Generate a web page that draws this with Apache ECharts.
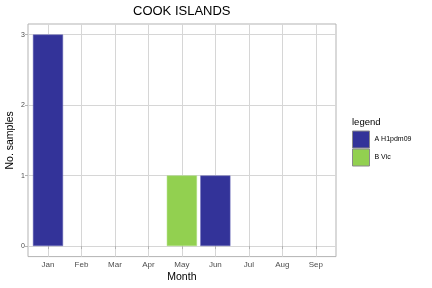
<!DOCTYPE html>
<html><head><meta charset="utf-8">
<script src="https://cdn.jsdelivr.net/npm/echarts@6/dist/echarts.min.js"></script>
<style>html,body{margin:0;padding:0;background:#fff}#c{width:432px;height:288px}</style>
</head><body><div id="c"></div>
<script>
const months = ['Jan','Feb','Mar','Apr','May','Jun','Jul','Aug','Sep'];
const seriesNames = ['A H1pdm09','B Vic'];
const h1pdm09 = [3,0,0,0,0,1,0,0,0];
const bvic = [0,0,0,0,1,0,0,0,0];
const yTicks = [0,1,2,3];
const colors = ['#333399','#92d050'];

const FONT = 'Liberation Sans, Arial, sans-serif';
const chart = echarts.init(document.getElementById('c'), null, {renderer:'canvas'});
const toNull = a => a.map(v => v === 0 ? null : v);
chart.setOption({
  animation:false,
  textStyle:{fontFamily:FONT},
  title:[
    {text:'COOK ISLANDS', left:133, top:5, padding:0,
     textStyle:{fontSize:13, fontWeight:'normal', color:'#000', fontFamily:FONT}},
    {text:'legend', left:352, top:117, padding:0,
     textStyle:{fontSize:9.5, fontWeight:'normal', color:'#000', fontFamily:FONT}}
  ],
  legend:{
    data:seriesNames, orient:'vertical', left:352, top:130.5, padding:0,
    itemWidth:17, itemHeight:17, itemGap:0, icon:'rect',
    itemStyle:{borderColor:'#8a8a8a', borderWidth:1},
    textStyle:{fontSize:7, color:'#000', fontFamily:FONT}
  },
  grid:[
    {left:28, right:96, top:24, bottom:31.4, show:true, borderColor:'#b3b3b3', borderWidth:1, backgroundColor:'transparent', outerBoundsMode:'none'},
    {left:28, right:96, top:34.7, bottom:42, outerBoundsMode:'none'},
    {left:31.25, right:99.5, top:24, bottom:31.4, outerBoundsMode:'none'}
  ],
  xAxis:[
    {gridIndex:0, type:'value', show:false, min:0, max:1},
    {gridIndex:1, type:'value', show:false, min:0, max:1},
    {gridIndex:2, type:'category', data:months,
     axisLine:{show:false},
     axisTick:{show:true, alignWithLabel:true, length:3, lineStyle:{color:'#b3b3b3'}},
     axisLabel:{fontSize:8, color:'#4d4d4d', margin:4, fontFamily:FONT},
     splitLine:{show:false},
     name:'Month', nameLocation:'middle', nameGap:15, nameMoveOverlap:false,
     nameTextStyle:{fontSize:10.5, color:'#000', fontFamily:FONT}}
  ],
  yAxis:[
    {gridIndex:0, type:'value', show:false, min:0, max:1},
    {gridIndex:1, type:'value', min:yTicks[0], max:yTicks[yTicks.length-1], interval:1,
     position:'left',
     axisLine:{show:false, onZero:false},
     axisTick:{show:true, length:3, inside:false, lineStyle:{color:'#b3b3b3'}},
     axisLabel:{fontSize:7, color:'#4d4d4d', margin:3, inside:false, fontFamily:FONT},
     splitLine:{show:true, lineStyle:{color:'#d6d6d6', width:1}},
     name:'No. samples', nameLocation:'middle', nameGap:12.5, nameRotate:90, nameMoveOverlap:false,
     nameTextStyle:{fontSize:10.5, color:'#000', fontFamily:FONT}},
    {gridIndex:2, type:'value', show:false, min:-0.15, max:3.15}
  ],
  series:[
    {type:'line', xAxisIndex:2, yAxisIndex:2, data:[], z:1, silent:true,
     markLine:{silent:true, symbol:'none', z:0, label:{show:false},
       lineStyle:{color:'#d6d6d6', width:1, type:'solid'},
       data:months.map(m => ({xAxis:m}))}},
    {name:seriesNames[0], type:'bar', xAxisIndex:2, yAxisIndex:2, stack:'s',
     data:toNull(h1pdm09), barWidth:'90%', z:3,
     itemStyle:{color:colors[0], borderColor:'#6a6ab8', borderWidth:0.5}},
    {name:seriesNames[1], type:'bar', xAxisIndex:2, yAxisIndex:2, stack:'s',
     data:toNull(bvic), barWidth:'90%', z:3,
     itemStyle:{color:colors[1], borderColor:'#a8dc78', borderWidth:0.5}}
  ]
});
</script></body></html>
